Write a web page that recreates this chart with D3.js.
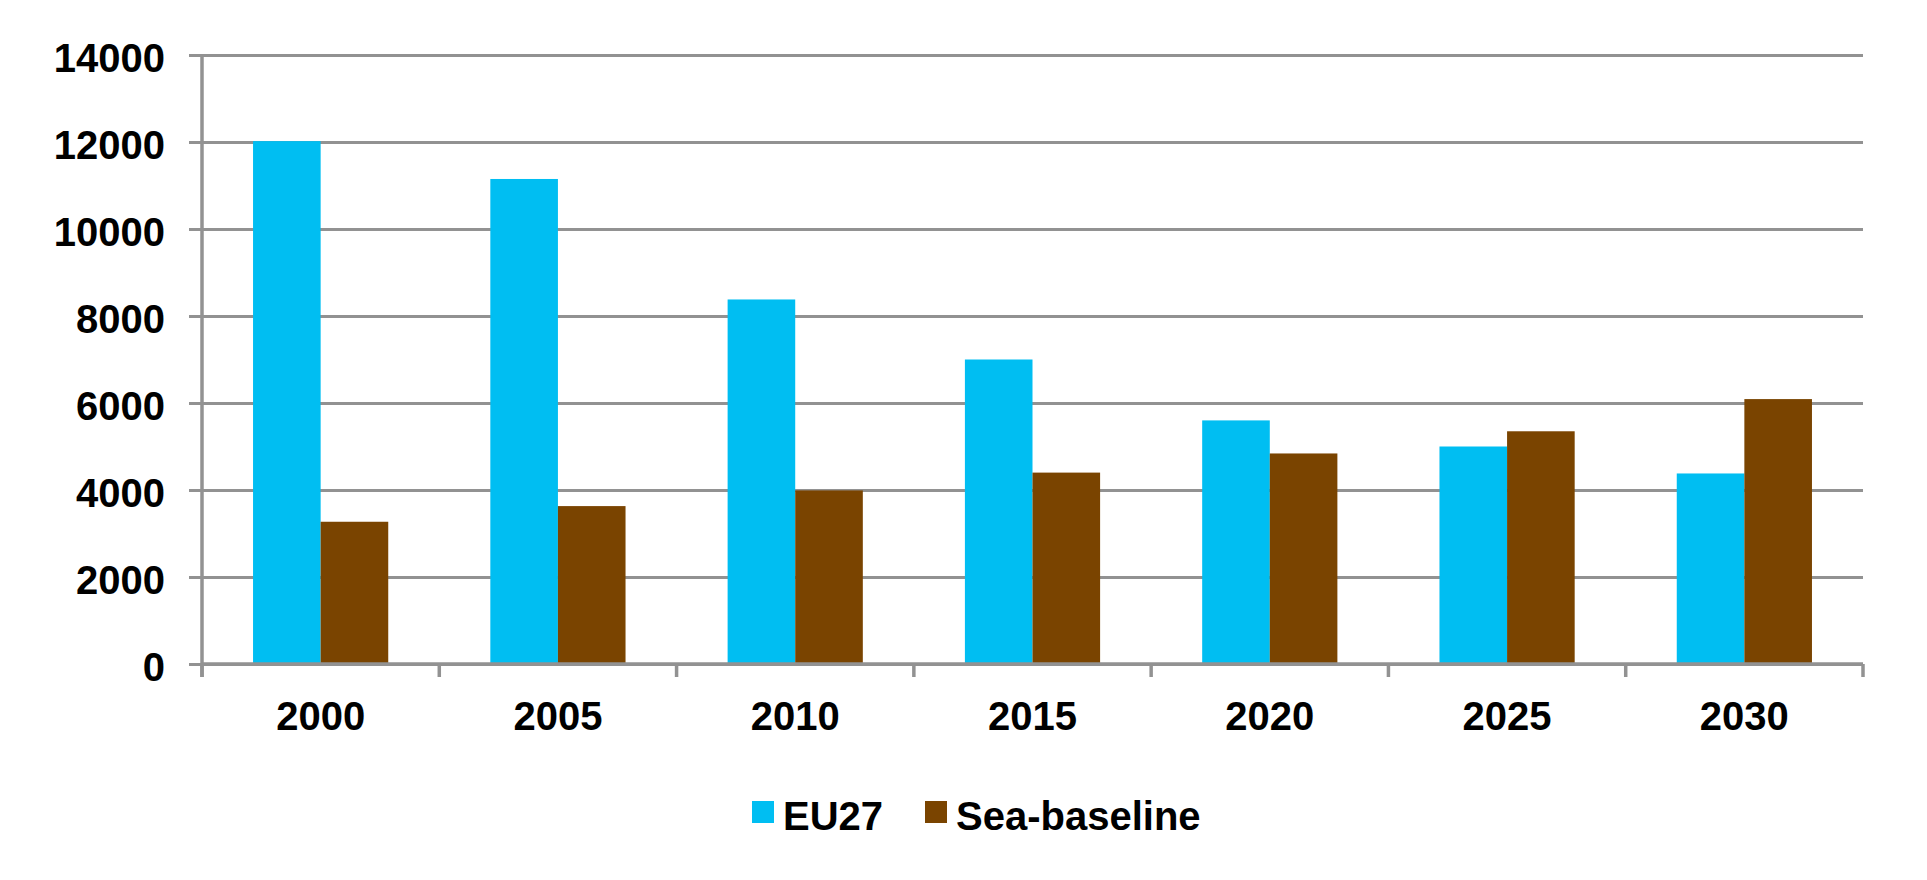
<!DOCTYPE html>
<html>
<head>
<meta charset="utf-8">
<script src="https://cdn.jsdelivr.net/npm/d3@7/dist/d3.min.js"></script>
<style>
  body { margin: 0; background: #fff; }
  svg text { font-family: "Liberation Sans", Arial, sans-serif; font-weight: bold; fill: #000; }
</style>
</head>
<body>
<svg id="chart" width="1927" height="880"></svg>
<script>
// chart data
const years = ["2000", "2005", "2010", "2015", "2020", "2025", "2030"];
const seriesNames = ["EU27", "Sea-baseline"];
const eu27 = [12020, 11150, 8380, 7000, 5600, 5000, 4380];
const seaBaseline = [3270, 3630, 3990, 4400, 4840, 5350, 6090];
const yTicks = [0, 2000, 4000, 6000, 8000, 10000, 12000, 14000];
const colors = ["#00BEF2", "#7A4400"];

const svg = d3.select("#chart");
const plotLeft = 202, plotRight = 1863, plotTop = 55, plotBottom = 664;
const gridColor = "#929292";

const x = d3.scaleBand().domain(years).range([plotLeft, plotRight]).paddingInner(0).paddingOuter(0);
const x1 = d3.scaleBand().domain(seriesNames).range([0, x.bandwidth()]).paddingInner(0).paddingOuter(0.755);
const y = d3.scaleLinear().domain([0, 14000]).range([plotBottom, plotTop]);

// grid lines
svg.append("g")
   .attr("transform", `translate(${plotLeft},0)`)
   .call(d3.axisLeft(y).tickValues(yTicks).tickSize(-(plotRight - plotLeft)).tickFormat(""))
   .call(g => g.select(".domain").remove())
   .call(g => g.selectAll("line").attr("stroke", gridColor).attr("stroke-width", 3));

// bars
const rows = years.map((yr, i) => ({ year: yr, values: [eu27[i], seaBaseline[i]] }));
svg.append("g")
   .selectAll("g")
   .data(rows)
   .enter()
   .append("g")
   .attr("transform", d => `translate(${x(d.year)},0)`)
   .selectAll("rect")
   .data(d => d.values.map((v, j) => ({ name: seriesNames[j], value: v, color: colors[j] })))
   .enter()
   .append("rect")
   .attr("x", d => x1(d.name))
   .attr("width", x1.bandwidth())
   .attr("y", d => y(d.value))
   .attr("height", d => y(0) - y(d.value))
   .style("fill", d => d.color);

// y axis
svg.append("g")
   .attr("transform", `translate(${plotLeft},0)`)
   .call(d3.axisLeft(y).tickValues(yTicks).tickSize(13).tickPadding(24).tickFormat(d3.format("d")))
   .call(g => g.select(".domain").remove())
   .call(g => g.selectAll("line").attr("stroke", gridColor).attr("stroke-width", 3))
   .call(g => g.selectAll("text").attr("dy", "0.41em").style("font-size", "40px"));

svg.append("line")
   .attr("x1", plotLeft).attr("x2", plotLeft)
   .attr("y1", plotTop + 1).attr("y2", plotBottom + 13)
   .attr("stroke", gridColor).attr("stroke-width", 3.5);

// x axis
svg.append("line")
   .attr("x1", plotLeft).attr("x2", plotRight)
   .attr("y1", plotBottom).attr("y2", plotBottom)
   .attr("stroke", gridColor).attr("stroke-width", 3.5);

const boundaries = years.map(d => x(d)).concat([plotRight]);
svg.append("g")
   .selectAll("line")
   .data(boundaries)
   .enter()
   .append("line")
   .attr("x1", d => d).attr("x2", d => d)
   .attr("y1", plotBottom).attr("y2", plotBottom + 13)
   .attr("stroke", gridColor).attr("stroke-width", 3.5);

svg.append("g")
   .attr("transform", `translate(0,${plotBottom})`)
   .call(d3.axisBottom(x).tickSize(0).tickPadding(38))
   .call(g => g.select(".domain").remove())
   .call(g => g.selectAll("text").style("font-size", "40px"));

// legend
const legendX = [752, 925];
const legend = svg.append("g")
   .selectAll("g")
   .data(seriesNames)
   .enter()
   .append("g")
   .attr("transform", (d, i) => `translate(${legendX[i]},801)`);

legend.append("rect")
      .attr("width", 22).attr("height", 22)
      .style("fill", (d, i) => colors[i]);

legend.append("text")
      .attr("x", 31).attr("y", 29)
      .style("font-size", "40px")
      .text(d => d);
</script>
</body>
</html>
